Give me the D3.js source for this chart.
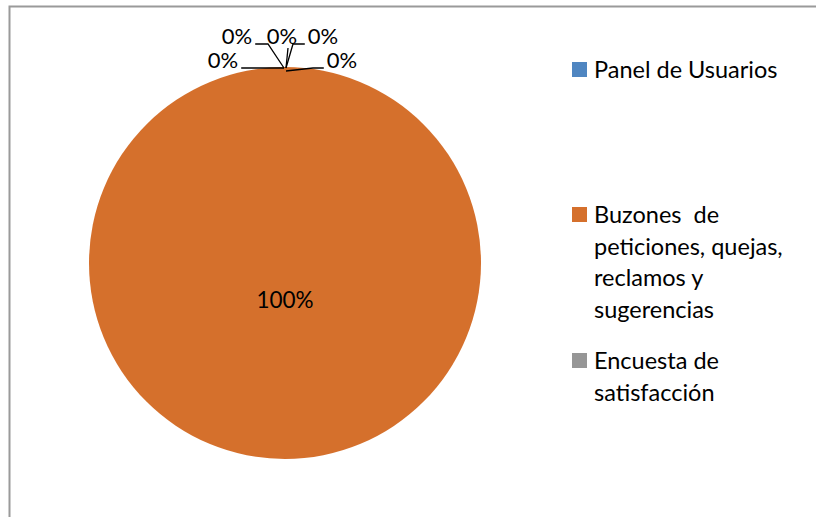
<!DOCTYPE html>
<html>
<head>
<meta charset="utf-8">
<script src="https://cdn.jsdelivr.net/npm/d3@7"></script>
<style>
  html, body { margin: 0; padding: 0; background: #fff; }
  svg { display: block; }
  text { white-space: pre; }
</style>
</head>
<body>
<script>
// Mecanismos de participación ciudadana: share of each channel
const categories = [
  "Panel de Usuarios",
  "Buzones  de peticiones, quejas, reclamos y sugerencias",
  "Encuesta de satisfacción",
  "Grupos focales",
  "Audiencias públicas",
  "Otros"
];
const legendLines = [
  ["Panel de Usuarios"],
  ["Buzones  de", "peticiones, quejas,", "reclamos y", "sugerencias"],
  ["Encuesta de", "satisfacción"],
  ["Grupos focales"],
  ["Audiencias públicas"],
  ["Otros"]
];
const values = [0, 100, 0, 0, 0, 0];
const colors = ["#4F86C1", "#D5702C", "#969696", "#E3B000", "#3F6EB0", "#6A9E3F"];

const W = 816, H = 517;
const svg = d3.select("body").append("svg").attr("width", W).attr("height", H);
const font = "Lato, 'Open Sans', sans-serif";
const labelSize = 22;

// chart-area frame (runs off the right and bottom edges)
svg.append("path")
  .attr("d", `M9.5,${H + 2} V6.5 H${W + 2}`)
  .attr("fill", "none").attr("stroke", "#9a9a9a").attr("stroke-width", 2);

const cx = 285, cy = 263, r = 196;
const total = d3.sum(values);
const pie = d3.pie().sort(null).value(d => d).startAngle(0).endAngle(2 * Math.PI);
const arcs = pie(values);
const arc = d3.arc().innerRadius(0).outerRadius(r);
const g = svg.append("g").attr("transform", `translate(${cx},${cy})`);

g.selectAll("path.slice").data(arcs).enter().append("path")
  .attr("class", "slice")
  .attr("d", arc)
  .attr("fill", (d, i) => colors[i]);

const fmt = v => Math.round(v / total * 100) + "%";

// label for the non-empty slice: centred in the pie
arcs.forEach((d, i) => {
  if (d.value > 0) {
    g.append("text").attr("x", 0).attr("y", 45)
      .attr("text-anchor", "middle").attr("font-family", font)
      .attr("font-size", 22.5).attr("fill", "#000")
      .text(fmt(d.value));
  }
});

// zero-size slices get labels spread above the pie, with leader lines
const spread = [
  { dx: -62, dy: -204, side: "right", elbow: -2 },
  { dx: -48, dy: -228, side: "right", elbow: -17 },
  { dx: -3,  dy: -228, side: "below", elbow: 0 },
  { dx: 38,  dy: -228, side: "left",  elbow: 8 },
  { dx: 57,  dy: -204, side: "left",  elbow: 28 }
];
const zeroIdx = arcs.map((d, i) => i).filter(i => arcs[i].value === 0);
zeroIdx.forEach((sliceI, k) => {
  const L = spread[k];
  const a = arcs[sliceI].startAngle;
  const ax = Math.sin(a) * r, ay = -Math.cos(a) * r;
  const t = g.append("text").attr("x", L.dx).attr("y", L.dy)
    .attr("text-anchor", "middle").attr("dominant-baseline", "central")
    .attr("font-family", font).attr("font-size", labelSize).attr("fill", "#000")
    .text(fmt(values[sliceI]));
  const bb = t.node().getBBox();
  let pts;
  if (L.side === "right") {
    const sx = bb.x + bb.width + 3, sy = L.dy + 9;
    pts = [[sx, sy], [Math.max(L.elbow, sx + 10), sy], [ax - 1, ay + 1]];
  } else if (L.side === "left") {
    const sx = bb.x - 3, sy = L.dy + 9;
    pts = [[sx, sy], [L.elbow, sy], [ax + 1, ay + 1 + (L.dy > -210 ? 3 : 0)]];
  } else {
    pts = [[L.dx + 6, L.dy + 13], [ax + 1, ay + 1]];
  }
  g.append("path").attr("d", d3.line()(pts))
    .attr("fill", "none").attr("stroke", "#000").attr("stroke-width", 1.3);
});

// legend; entries past the frame height are not shown
const lg = svg.append("g").attr("transform", "translate(572,0)");
const entryTop = [62, 207, 353];
const lineH = 31.5;
categories.forEach((c, i) => {
  if (i >= entryTop.length) return;
  const y0 = entryTop[i];
  lg.append("rect").attr("x", 0).attr("y", y0).attr("width", 15).attr("height", 15)
    .attr("fill", colors[i]);
  legendLines[i].forEach((ln, j) => {
    lg.append("text").attr("x", 22).attr("y", y0 + 16 + j * lineH)
      .attr("font-family", font).attr("font-size", 23.5).attr("fill", "#000")
      .text(ln);
  });
});
</script>
</body>
</html>
